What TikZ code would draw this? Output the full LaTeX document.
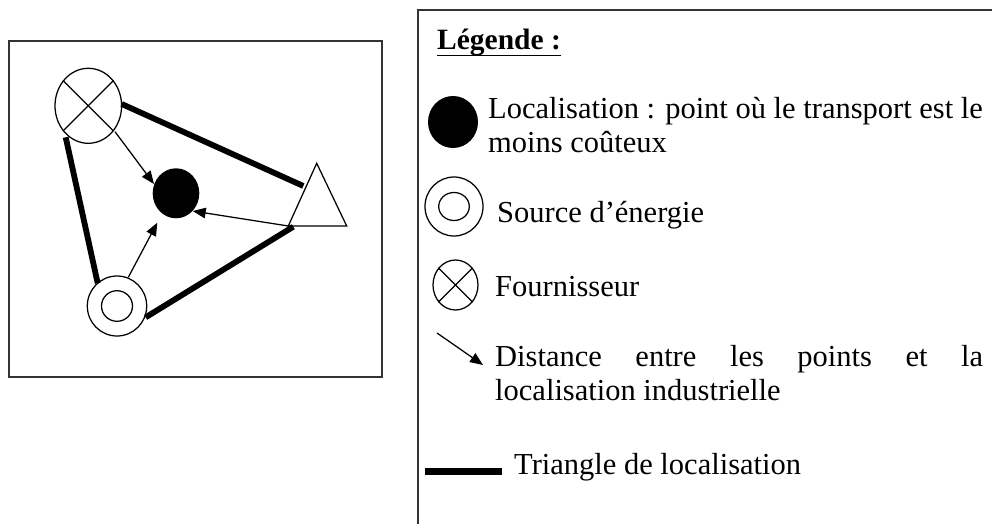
\documentclass[tikz,border=0pt]{standalone}
\usepackage{fontspec}
\setmainfont{Liberation Serif}
\usetikzlibrary{shapes.geometric,arrows.meta}
\begin{document}
\begin{tikzpicture}[x=1pt,y=-1pt,
  symline/.style={line width=1.25pt},
  thickedge/.style={line width=5.8pt},
  distarrow/.style={line width=1.25pt,-{Triangle[length=13pt,width=10.5pt]}},
  sym/.style={ellipse, draw, line width=1.25pt, inner sep=0pt},
  dot/.style={ellipse, fill=black, inner sep=0pt},
  lbl/.style={anchor=base west, inner sep=0pt, font=\fontsize{30.5}{35}\selectfont},
  frame/.style={line width=1.6pt, draw=black!80}
]
\useasboundingbox (0,0) rectangle (992,524);

% ---------- left diagram ----------
\draw[frame] (9,41) rectangle (382,377);

\node[sym, minimum width=66.6pt, minimum height=75pt] (F) at (88.3,105.8) {};
\draw[symline] (F.135) -- (F.-45);
\draw[symline] (F.45) -- (F.-135);

\node[dot, minimum width=46.6pt, minimum height=50pt] (L) at (176,193.3) {};

\node[sym, minimum width=59.4pt, minimum height=60pt] (S) at (117,306) {};
\node[sym, minimum width=31pt, minimum height=30.6pt] (Sin) at (117,306) {};

\coordinate (T1) at (288.3,226);
\coordinate (T2) at (316.7,163.3);
\coordinate (T3) at (346.7,226);
\draw[symline, line join=miter] (T1) -- (T2) -- (T3) -- cycle;

% thick triangle edges
\coordinate (e1a) at (121.7,104);
\coordinate (e1b) at (303.3,186);
\coordinate (e2a) at (65.7,137.3);
\coordinate (e2b) at (97.7,283.3);
\coordinate (e3a) at (145.7,317.3);
\coordinate (e3b) at (293.3,226.7);
\draw[thickedge] (e1a) -- (e1b);
\draw[thickedge] (e2a) -- (e2b);
\draw[thickedge] (e3a) -- (e3b);

% distance arrows
\coordinate (aF) at (115,131.7);
\coordinate (aFt) at (154,184);
\coordinate (aTt) at (192.7,211);
\coordinate (aS) at (128.3,277.3);
\coordinate (aSt) at (157.3,222.7);
\draw[distarrow] (aF) -- (aFt);
\draw[distarrow] (T1) -- (aTt);
\draw[distarrow] (aS) -- (aSt);

% ---------- legend ----------
\draw[frame] (418,524) -- (418,10) -- (992,10);

\node[lbl, font=\fontsize{29.5}{34}\selectfont\bfseries] (leg) at (437,50) {Légende :};
\draw[line width=1.5pt] ([yshift=-5.5pt]leg.base west) -- ([yshift=-5.5pt]leg.base east);

\node[dot, minimum width=50pt, minimum height=52pt] (kL) at (453,122) {};
\node[lbl] (t1) at (488,118) {Localisation : point où le transport est le};
\node[lbl] (t1b) at (488,152) {moins coûteux};

\node[sym, minimum width=58pt, minimum height=59pt] (kS) at (454,206.5) {};
\node[sym, minimum width=30.6pt, minimum height=28pt] (kSin) at (454,206.5) {};
\node[lbl] (t2) at (497,222) {Source d’énergie};

\node[sym, minimum width=45pt, minimum height=50pt] (kF) at (455.5,285) {};
\draw[symline] (kF.135) -- (kF.-45);
\draw[symline] (kF.45) -- (kF.-135);
\node[lbl] (t3) at (495,296) {Fournisseur};

\coordinate (kAa) at (437,333);
\coordinate (kAb) at (483,365);
\draw[distarrow] (kAa) -- (kAb);
\node[lbl] (t4) at (495,366) {\hbox to 488pt{Distance\hfill entre\hfill les\hfill points\hfill et\hfill la}};
\node[lbl] (t4b) at (495,400) {localisation industrielle};

\coordinate (kEa) at (425,471.5);
\coordinate (kEb) at (502,471.5);
\draw[line width=6.5pt] (kEa) -- (kEb);
\node[lbl] (t5) at (514,474) {Triangle de localisation};
\end{tikzpicture}
\end{document}
